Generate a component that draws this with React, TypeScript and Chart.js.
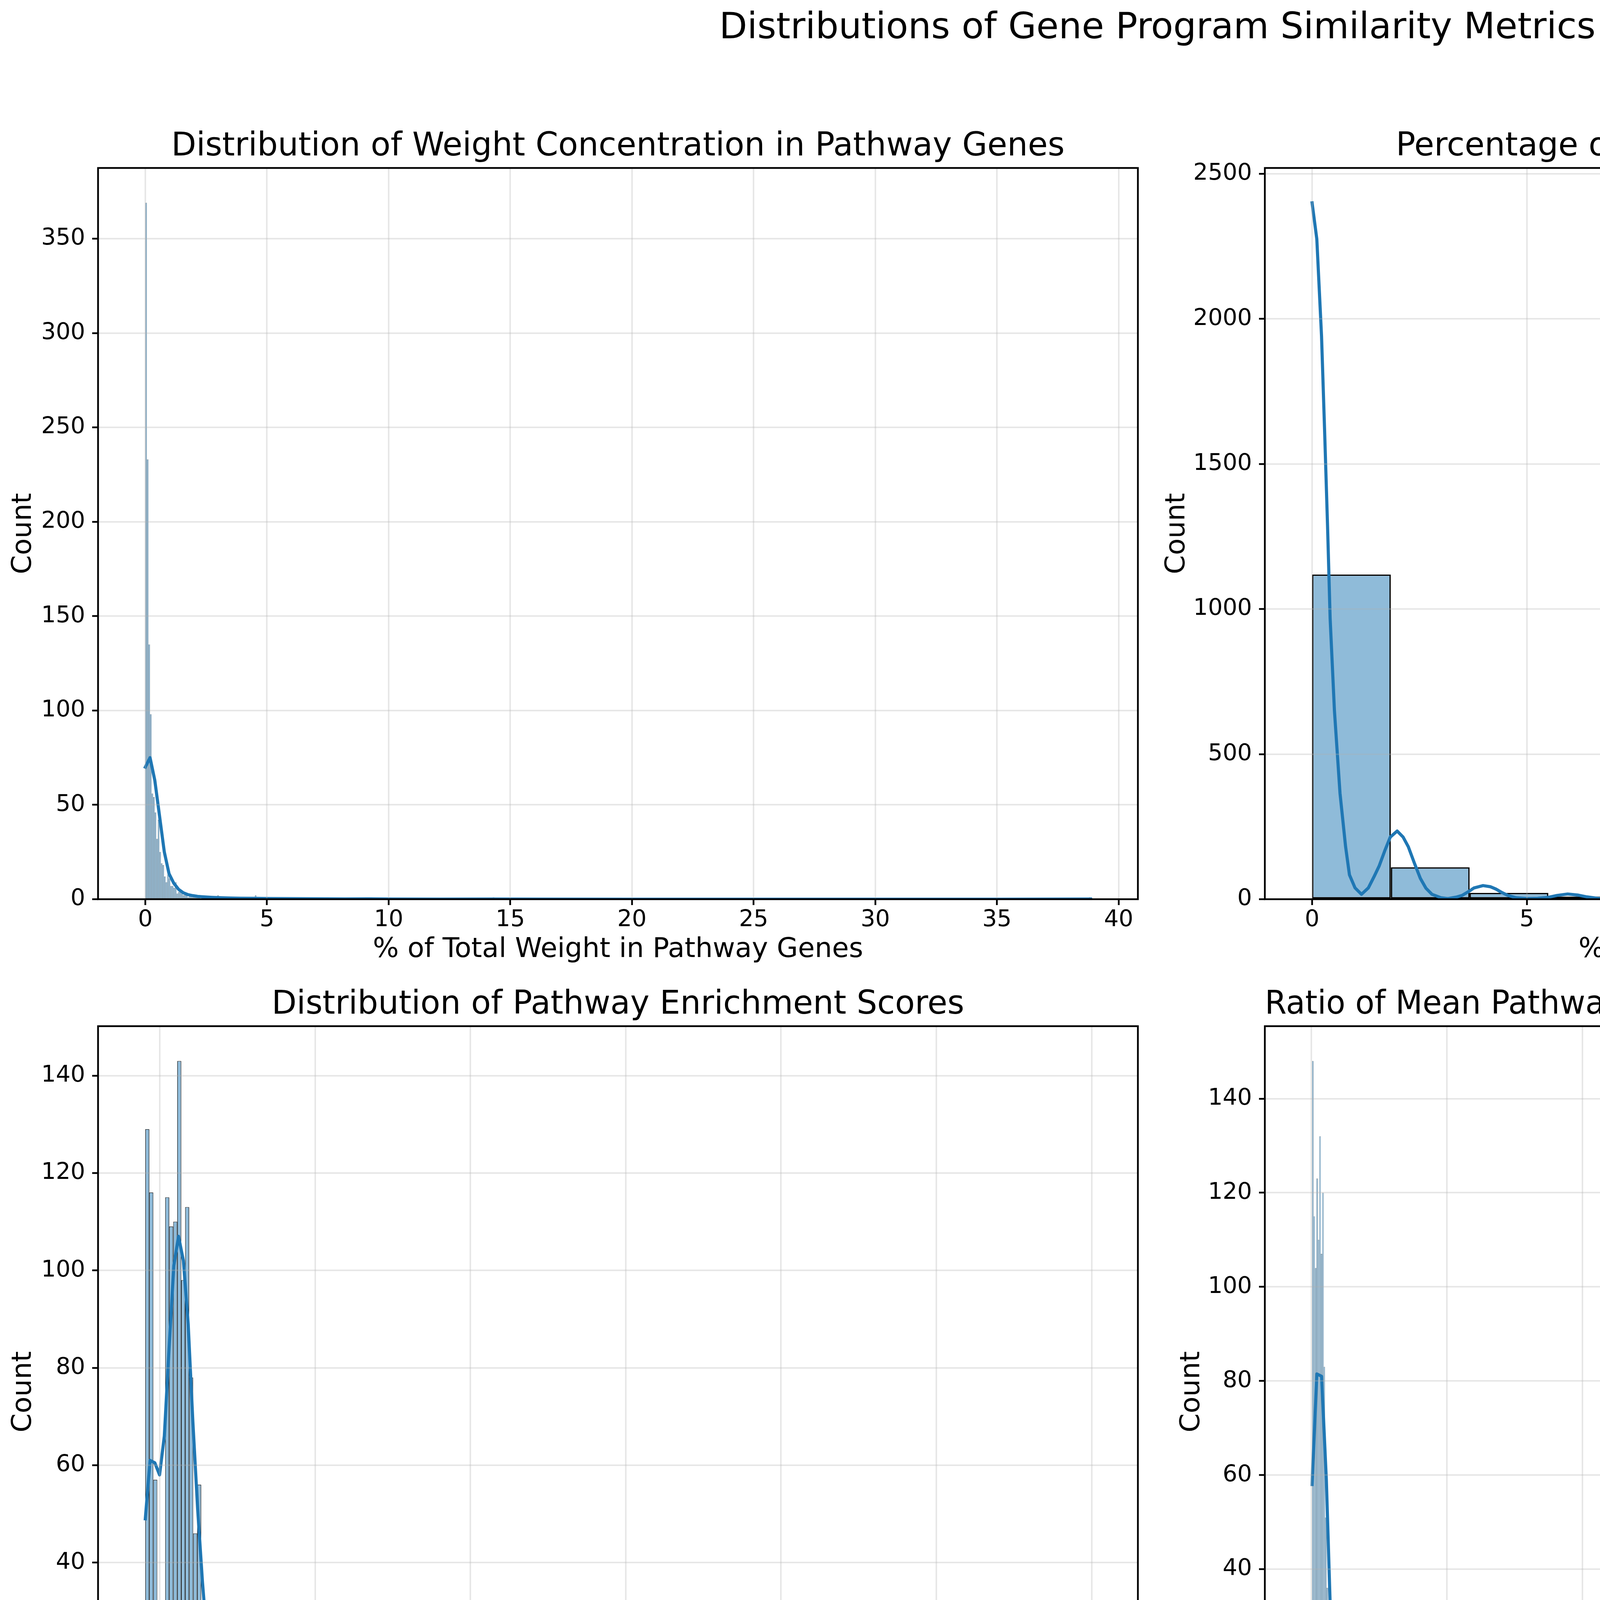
import React, { useEffect, useRef } from 'react';
import { Chart, registerables } from 'chart.js';

Chart.register(...registerables);

const FONT = "'DejaVu Sans', 'Liberation Sans', sans-serif";
Chart.defaults.font.family = FONT;
Chart.defaults.color = '#000';

const FIG_TITLE = 'Distributions of Gene Program Similarity Metrics';

// ---------- Panel 1: weight concentration ----------
const TL_TITLE = 'Distribution of Weight Concentration in Pathway Genes';
const TL_XLABEL = '% of Total Weight in Pathway Genes';
const TL_BIN_START = 0;
const TL_BIN_WIDTH = 0.06432;
const TL_BIN_TOTAL = 604;
const TL_HEAD_COUNTS = [369, 233, 135, 98, 56, 54, 46, 32, 42, 25, 19, 18, 12, 9, 13, 11, 7, 7, 6, 9, 3, 4, 4, 3, 2, 3, 2, 1, 2, 2, 1, 2, 1, 1, 1, 0, 1, 1, 0, 1, 0, 1, 0, 1];
const TL_TAIL_BINS = [46, 70, 90, 103, 109, 143, 144, 222, 603];
const TL_TAIL_COUNTS = [2, 2, 1, 1, 1, 1, 1, 1, 1];
const TL_KDE_X = [0, 0.195, 0.39, 0.586, 0.781, 0.976, 1.17, 1.37, 1.56, 1.76, 1.95, 2.15, 2.34, 2.73, 3.12, 3.51, 3.9, 4.49, 5.07, 5.86, 6.64, 7.42, 8.2, 9.17, 10.15, 12.1, 14.25, 16.2, 20, 25, 30, 35, 38.85];
const TL_KDE_Y = [70, 75, 63, 44, 25, 13.5, 8.5, 5.2, 3.4, 2.4, 1.9, 1.5, 1.3, 1.0, 0.8, 0.6, 0.5, 0.45, 0.35, 0.3, 0.25, 0.2, 0.15, 0.2, 0.1, 0.05, 0.1, 0.03, 0.02, 0.01, 0.01, 0.02, 0.12];
const TL_XTICKS = [0, 5, 10, 15, 20, 25, 30, 35, 40];
const TL_YTICKS = [0, 50, 100, 150, 200, 250, 300, 350];

// ---------- Panel 2: top-50 genes ----------
const TR_TITLE = 'Percentage of Top 50 Genes in Original Pathway';
const TR_XLABEL = '% of Top 50 Genes in Pathway';
const TR_BIN_START = 0;
const TR_BIN_WIDTH = 22 / 12;
const TR_BIN_TOTAL = 12;
const TR_HEAD_COUNTS = [1119, 110, 22, 9, 4, 4, 3, 3, 0, 0, 0, 2];
const TR_TAIL_BINS: number[] = [];
const TR_TAIL_COUNTS: number[] = [];
const TR_KDE_X = [0, 0.11, 0.22, 0.29, 0.36, 0.42, 0.52, 0.65, 0.78, 0.87, 1.0, 1.15, 1.31, 1.45, 1.56, 1.7, 1.82, 1.98, 2.12, 2.24, 2.38, 2.52, 2.65, 2.79, 3.0, 3.16, 3.35, 3.49, 3.65, 3.77, 3.98, 4.15, 4.28, 4.42, 4.56, 4.75, 5.02, 5.25, 5.48, 5.7, 5.95, 6.2, 6.4, 6.65, 6.9, 7.2, 7.5, 7.75, 8.0, 8.25, 8.5, 8.75, 9.0, 9.25, 9.5, 9.75, 10.0, 10.25, 10.5, 10.75, 11.0, 11.25, 11.5, 11.75, 12.0, 12.25, 12.5, 12.75, 13.0, 13.25, 13.5, 13.75, 14.0, 14.25, 14.5, 14.75, 15.0, 15.5, 16, 18, 20, 21, 21.5, 21.75, 22];
const TR_KDE_Y = [2400, 2275, 1940, 1621, 1286, 968, 650, 365, 181, 84, 39, 17, 39, 80, 114, 170, 214, 235, 214, 181, 125, 72, 38, 17, 5, 2, 7, 13, 27, 39, 47, 43, 35, 23, 13, 5, 2, 3, 6, 13, 18, 14, 8, 3, 1.5, 1.5, 3.5, 6, 7.5, 6, 3.5, 1.5, 1, 2, 4, 6.5, 8, 6.5, 4, 2, 1, 1.5, 3, 5, 6, 5, 3, 1.5, 1, 1.5, 3, 5, 6, 5, 3, 1.5, 0.6, 0.1, 0, 0, 0, 0.1, 0.8, 2, 3.3];
const TR_XTICKS = [0, 5, 10, 15, 20];
const TR_YTICKS = [0, 500, 1000, 1500, 2000, 2500];

// ---------- Panel 3: enrichment scores ----------
const BL_TITLE = 'Distribution of Pathway Enrichment Scores';
const BL_XLABEL = 'Enrichment Score';
const BL_BIN_START = -0.93;
const BL_BIN_WIDTH = 0.2568;
const BL_BIN_TOTAL = 237;
const BL_HEAD_COUNTS = [129, 116, 57, 0, 0, 115, 109, 110, 143, 98, 113, 78, 46, 56, 30, 19, 12, 10, 9, 3, 3, 1, 2, 1, 0, 3, 2, 0, 1, 0, 0, 1];
const BL_TAIL_BINS = [38, 39, 44, 46, 236];
const BL_TAIL_COUNTS = [1, 1, 1, 1, 1];
const BL_KDE_X = [-0.93, -0.624, -0.318, -0.012, 0.294, 0.6, 0.906, 1.21, 1.52, 1.83, 2.13, 2.44, 2.75, 3.05, 3.36, 3.67, 3.97, 4.28, 4.59, 4.9, 5.2, 5.51, 5.82, 6.12, 6.43, 7.0, 8.0, 8.9, 9.5, 10.4, 11.0, 12, 14, 20, 30, 40, 50, 58.5, 59.3, 59.93];
const BL_KDE_Y = [49, 61, 60.5, 58, 66, 84, 101, 107, 102, 89, 69, 51, 36, 24, 16, 10.5, 6.5, 4, 2.7, 2, 1.7, 1.5, 1.3, 1.0, 0.7, 0.4, 0.3, 0.5, 0.4, 0.4, 0.4, 0.1, 0.02, 0, 0, 0, 0, 0.02, 0.2, 0.35];
const BL_XTICKS = [0, 10, 20, 30, 40, 50, 60];
const BL_YTICKS = [0, 20, 40, 60, 80, 100, 120, 140];

// ---------- Panel 4: weight ratio ----------
const BR_TITLE = 'Ratio of Mean Pathway Gene Weight to Non-Pathway Gene Weight';
const BR_XLABEL = 'Weight Ratio (higher = more pathway focused)';
const BR_BIN_START = 0.12;
const BR_BIN_WIDTH = 0.2667;
const BR_BIN_TOTAL = 654;
const BR_HEAD_COUNTS = [148, 115, 104, 123, 110, 132, 107, 120, 83, 51, 36, 15, 21, 9, 9, 7, 1, 0, 1, 1, 3, 0, 3, 1, 1, 1];
const BR_TAIL_BINS = [35, 40, 42, 653];
const BR_TAIL_COUNTS = [2, 1, 1, 1];
const BR_KDE_X = [0.12, 1.0, 1.87, 2.75, 3.63, 4.5, 5.38, 6.26, 7.13, 8.0, 8.89, 9.77, 10.6, 11.5, 12.4, 13.3, 15, 20, 40, 80, 120, 160, 172.8, 173.7, 174.55];
const BR_KDE_Y = [58, 81.5, 81, 59, 26, 9.5, 4.8, 1.9, 1.0, 0.6, 0.5, 0.55, 0.5, 0.3, 0.15, 0.05, 0.01, 0, 0, 0, 0, 0, 0.05, 0.15, 0.25];
const BR_XTICKS = [0, 25, 50, 75, 100, 125, 150, 175];
const BR_YTICKS = [0, 20, 40, 60, 80, 100, 120, 140];

// ---------- layout / style (page pixels) ----------
const TITLE_H = 125;
const XAXIS_H = 195;
const RIGHT_PAD = 40;
const GRID = 'rgba(176,176,176,0.3)';
const BAR_FACE = '#8fbbd9';
const LINE = '#1f77b4';

function expandCounts(total: number, head: number[], tailBins: number[], tailCounts: number[]) {
  const out = new Array(total).fill(0);
  head.forEach((c, i) => { out[i] = c; });
  tailBins.forEach((b, i) => { out[b] = tailCounts[i]; });
  return out;
}

const framePlugin = {
  id: 'frame',
  afterDraw(chart: any) {
    const { ctx, chartArea } = chart;
    ctx.save();
    ctx.strokeStyle = '#000';
    ctx.lineWidth = 4.5;
    ctx.strokeRect(chartArea.left, chartArea.top, chartArea.right - chartArea.left, chartArea.bottom - chartArea.top);
    ctx.restore();
  },
};

type PanelCfg = {
  title: string; xlabel: string;
  binStart: number; binWidth: number; binTotal: number;
  head: number[]; tailBins: number[]; tailCounts: number[];
  kdeX: number[]; kdeY: number[];
  xticks: number[]; yticks: number[];
  axLeft: number; axTop: number; axRight: number; axBottom: number;
  canvasLeft: number; yTitlePad: number; edge: number; edgeColor: string;
};

function Panel({ cfg }: { cfg: PanelCfg }) {
  const ref = useRef<HTMLCanvasElement | null>(null);
  const wL = cfg.axLeft - cfg.canvasLeft;
  const width = Math.round(wL + (cfg.axRight - cfg.axLeft) + RIGHT_PAD);
  const height = Math.round(TITLE_H + (cfg.axBottom - cfg.axTop) + XAXIS_H);
  const top = cfg.axTop - TITLE_H;

  useEffect(() => {
    if (!ref.current) return;
    const counts = expandCounts(cfg.binTotal, cfg.head, cfg.tailBins, cfg.tailCounts);
    const bars = counts.map((c, k) => ({ x: cfg.binStart + (k + 0.5) * cfg.binWidth, y: c }));
    const kde = cfg.kdeX.map((x, i) => ({ x, y: cfg.kdeY[i] }));
    const span = cfg.binTotal * cfg.binWidth;
    const xMin = cfg.binStart - 0.05 * span;
    const xMax = cfg.binStart + span + 0.05 * span;
    const yMax = 1.05 * Math.max(Math.max(...counts), Math.max(...cfg.kdeY));

    const chart = new Chart(ref.current, {
      type: 'bar',
      data: {
        datasets: [
          {
            type: 'line', data: kde, borderColor: LINE, backgroundColor: LINE, borderWidth: 8,
            pointRadius: 0, tension: 0, fill: false, order: 0,
            borderJoinStyle: 'round', borderCapStyle: 'square',
          } as any,
          {
            type: 'bar', data: bars, backgroundColor: BAR_FACE, borderColor: cfg.edgeColor,
            borderWidth: cfg.edge, borderSkipped: false, barPercentage: 1, categoryPercentage: 1,
            inflateAmount: 0, order: 1,
          } as any,
        ],
      },
      options: {
        animation: false,
        responsive: false,
        maintainAspectRatio: false,
        devicePixelRatio: 1,
        events: [],
        layout: { padding: { left: 0, right: RIGHT_PAD, top: 0, bottom: 0 } },
        plugins: {
          legend: { display: false },
          tooltip: { enabled: false },
          title: {
            display: true, text: cfg.title, fullSize: false, color: '#000',
            font: { family: FONT, size: 83, weight: 'normal' },
            padding: { top: 21.4, bottom: 4 },
          },
        },
        scales: {
          x: {
            type: 'linear', min: xMin, max: xMax, offset: false, bounds: 'data',
            afterBuildTicks: (s: any) => { s.ticks = cfg.xticks.map((v) => ({ value: v })); },
            afterFit: (s: any) => { s.height = XAXIS_H; },
            ticks: {
              autoSkip: false, maxRotation: 0, minRotation: 0, padding: 3.6, color: '#000',
              font: { family: FONT, size: 59 }, callback: (v: any) => String(v),
            },
            grid: {
              display: true, offset: false, color: GRID, lineWidth: 4, drawTicks: true,
              tickLength: 15, tickColor: '#000', tickWidth: 4.5, z: 1,
            },
            border: { display: false },
            title: {
              display: true, text: cfg.xlabel, color: '#000',
              font: { family: FONT, size: 70 }, padding: { top: 0, bottom: 23.2 },
            },
          },
          y: {
            type: 'linear', min: 0, max: yMax, bounds: 'data',
            afterBuildTicks: (s: any) => { s.ticks = cfg.yticks.map((v) => ({ value: v })); },
            afterFit: (s: any) => { s.width = wL; },
            ticks: {
              autoSkip: false, padding: 18, color: '#000',
              font: { family: FONT, size: 59 }, callback: (v: any) => String(v),
            },
            grid: {
              display: true, color: GRID, lineWidth: 4, drawTicks: true,
              tickLength: 15, tickColor: '#000', tickWidth: 4.5, z: 1,
            },
            border: { display: false },
            title: {
              display: true, text: 'Count', color: '#000',
              font: { family: FONT, size: 70 }, padding: { top: cfg.yTitlePad, bottom: 0 },
            },
          },
        },
      } as any,
      plugins: [framePlugin],
    });
    return () => chart.destroy();
  }, []);

  return (
    <canvas
      ref={ref}
      width={width}
      height={height}
      style={{ position: 'absolute', left: cfg.canvasLeft, top, width, height, display: 'block' }}
    />
  );
}

const PANELS: PanelCfg[] = [
  {
    title: TL_TITLE, xlabel: TL_XLABEL, binStart: TL_BIN_START, binWidth: TL_BIN_WIDTH, binTotal: TL_BIN_TOTAL,
    head: TL_HEAD_COUNTS, tailBins: TL_TAIL_BINS, tailCounts: TL_TAIL_COUNTS, kdeX: TL_KDE_X, kdeY: TL_KDE_Y,
    xticks: TL_XTICKS, yticks: TL_YTICKS,
    axLeft: 251, axTop: 430, axRight: 2913, axBottom: 2302, canvasLeft: 0, yTitlePad: 18.8, edge: 0.6, edgeColor: 'rgba(0,0,0,0.75)',
  },
  {
    title: TR_TITLE, xlabel: TR_XLABEL, binStart: TR_BIN_START, binWidth: TR_BIN_WIDTH, binTotal: TR_BIN_TOTAL,
    head: TR_HEAD_COUNTS, tailBins: TR_TAIL_BINS, tailCounts: TR_TAIL_COUNTS, kdeX: TR_KDE_X, kdeY: TR_KDE_Y,
    xticks: TR_XTICKS, yticks: TR_YTICKS,
    axLeft: 3238, axTop: 430, axRight: 5899, axBottom: 2302, canvasLeft: 2938, yTitlePad: 34, edge: 3.5, edgeColor: '#000',
  },
  {
    title: BL_TITLE, xlabel: BL_XLABEL, binStart: BL_BIN_START, binWidth: BL_BIN_WIDTH, binTotal: BL_BIN_TOTAL,
    head: BL_HEAD_COUNTS, tailBins: BL_TAIL_BINS, tailCounts: BL_TAIL_COUNTS, kdeX: BL_KDE_X, kdeY: BL_KDE_Y,
    xticks: BL_XTICKS, yticks: BL_YTICKS,
    axLeft: 251, axTop: 2627, axRight: 2913, axBottom: 4499, canvasLeft: 0, yTitlePad: 18.8, edge: 1.3, edgeColor: '#000',
  },
  {
    title: BR_TITLE, xlabel: BR_XLABEL, binStart: BR_BIN_START, binWidth: BR_BIN_WIDTH, binTotal: BR_BIN_TOTAL,
    head: BR_HEAD_COUNTS, tailBins: BR_TAIL_BINS, tailCounts: BR_TAIL_COUNTS, kdeX: BR_KDE_X, kdeY: BR_KDE_Y,
    xticks: BR_XTICKS, yticks: BR_YTICKS,
    axLeft: 3238, axTop: 2627, axRight: 5899, axBottom: 4499, canvasLeft: 2938, yTitlePad: 72, edge: 0.6, edgeColor: 'rgba(0,0,0,0.75)',
  },
];

export default function App() {
  useEffect(() => {
    document.body.style.margin = '0';
    document.body.style.background = '#fff';
  }, []);
  return (
    <div style={{ position: 'absolute', left: 0, top: 0, width: 5980, height: 4696, overflow: 'hidden', background: '#fff' }}>
      <div
        style={{
          position: 'absolute', left: 0, top: 20.3, width: 5926, textAlign: 'center',
          fontFamily: FONT, fontSize: 93, lineHeight: '93px', color: '#000', whiteSpace: 'nowrap',
        }}
      >
        {FIG_TITLE}
      </div>
      {PANELS.map((p, i) => (
        <Panel key={i} cfg={p} />
      ))}
    </div>
  );
}
